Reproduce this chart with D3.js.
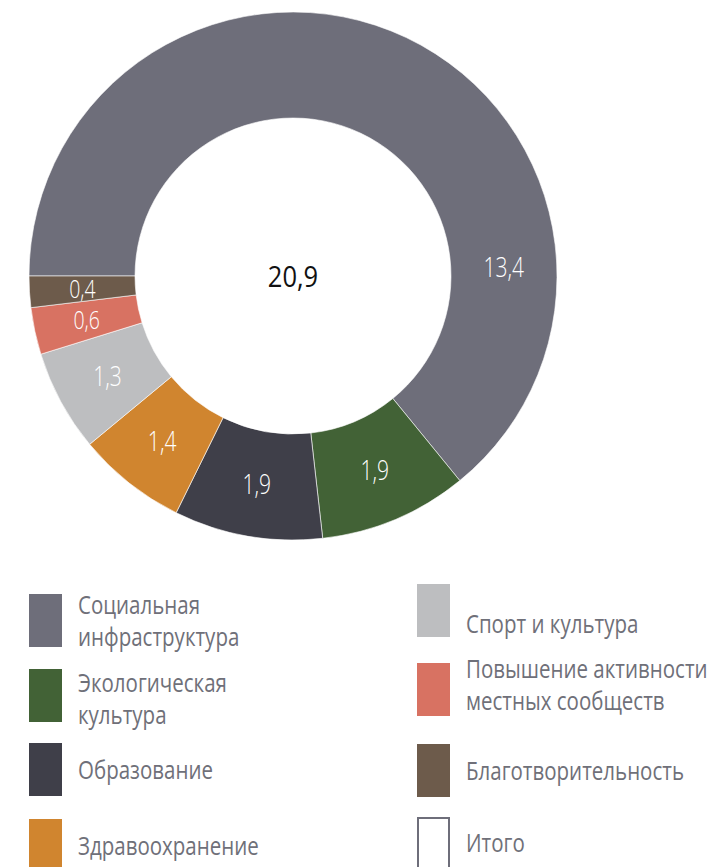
<!DOCTYPE html>
<html>
<head>
<meta charset="utf-8">
<script src="https://cdn.jsdelivr.net/npm/d3@7"></script>
<style>
  body { margin: 0; background: #fff; }
  svg { display: block; }
</style>
</head>
<body>
<svg id="chart"></svg>
<script>
// data
var categories = ["Социальная инфраструктура", "Экологическая культура", "Образование",
                  "Здравоохранение", "Спорт и культура", "Повышение активности местных сообществ",
                  "Благотворительность"];
var values = [13.4, 1.9, 1.9, 1.4, 1.3, 0.6, 0.4];
var colors = ["#6e6e7a", "#426236", "#3f3f49", "#d0852f", "#bdbec0", "#d87262", "#6d5b4b"];
var totalLabel = "Итого";
var total = 20.9;

// legend layout: two columns, label lines per entry
var legendLeft = [
  {lines: ["Социальная", "инфраструктура"], color: colors[0]},
  {lines: ["Экологическая", "культура"], color: colors[1]},
  {lines: ["Образование"], color: colors[2]},
  {lines: ["Здравоохранение"], color: colors[3]}
];
var legendRight = [
  {lines: ["Спорт и культура"], color: colors[4]},
  {lines: ["Повышение активности", "местных сообществ"], color: colors[5]},
  {lines: ["Благотворительность"], color: colors[6]},
  {lines: [totalLabel], color: null}
];

var width = 707, height = 867;
var cx = 293, cy = 276, outerR = 264, innerR = 158;
var fmt = function(v) { return d3.format(".1f")(v).replace(".", ","); };
var squeeze = 0.78;

var svg = d3.select("#chart")
    .attr("width", width)
    .attr("height", height);

var g = svg.append("g")
    .attr("transform", "translate(" + cx + "," + cy + ")");

var pie = d3.pie()
    .sort(null)
    .startAngle(-Math.PI / 2)
    .endAngle(3 * Math.PI / 2)
    .value(function(d) { return d; });

var arc = d3.arc().innerRadius(innerR).outerRadius(outerR);
var arcs = pie(values);

g.selectAll("path")
  .data(arcs)
  .enter()
  .append("path")
    .attr("d", arc)
    .attr("fill", function(d, i) { return colors[i]; })
    .attr("stroke", "#fff")
    .attr("stroke-width", 0.6);

// slice labels: centroid, except a slice crossing 3 o'clock gets its label there
function labelPos(d) {
  var mid = (innerR + outerR) / 2;
  if (d.startAngle < Math.PI / 2 && d.endAngle > Math.PI / 2 && (d.endAngle - d.startAngle) > Math.PI) {
    var a = Math.PI / 2 - 0.04;
    return [mid * Math.sin(a), -mid * Math.cos(a)];
  }
  return arc.centroid(d);
}

g.selectAll("text.val")
  .data(arcs)
  .enter()
  .append("text")
    .attr("class", "val")
    .attr("transform", function(d) {
      var p = labelPos(d);
      return "translate(" + p[0] + "," + p[1] + ") scale(" + squeeze + ",1)";
    })
    .attr("text-anchor", "middle")
    .attr("dy", "0.36em")
    .style("font-family", "'Open Sans', sans-serif")
    .style("font-weight", 300)
    .style("font-size", function(d) { return d.data < 1 ? "25px" : "27px"; })
    .style("fill", "#fff")
    .text(function(d) { return fmt(d.data); });

g.append("text")
    .attr("transform", "scale(0.85,1)")
    .attr("text-anchor", "middle")
    .attr("dy", "0.36em")
    .style("font-family", "'Open Sans', sans-serif")
    .style("font-weight", 400)
    .style("font-size", "30px")
    .style("fill", "#111")
    .text(fmt(total));

// legend
function drawLegend(items, x, rectTops, baselines) {
  var lg = svg.append("g");
  items.forEach(function(item, i) {
    var r = lg.append("rect")
        .attr("x", x)
        .attr("y", rectTops[i])
        .attr("width", 33)
        .attr("height", 53);
    if (item.color) {
      r.attr("fill", item.color);
    } else {
      r.attr("x", x + 1).attr("width", 31).attr("fill", "none")
       .attr("stroke", "#6e6e7a").attr("stroke-width", 2);
    }
    item.lines.forEach(function(line, j) {
      lg.append("text")
          .attr("transform", "translate(" + (x + 49) + "," + (baselines[i] + j * 32) + ") scale(0.82,1)")
          .style("font-family", "'Open Sans', sans-serif")
          .style("font-weight", 400)
          .style("font-size", "25px")
          .style("fill", "#6f7079")
          .text(line);
    });
  });
}

drawLegend(legendLeft, 29, [594, 669, 743, 819], [614, 692, 779, 855]);
drawLegend(legendRight, 417, [584, 663, 744, 818], [633, 678, 780, 852]);
</script>
</body>
</html>
